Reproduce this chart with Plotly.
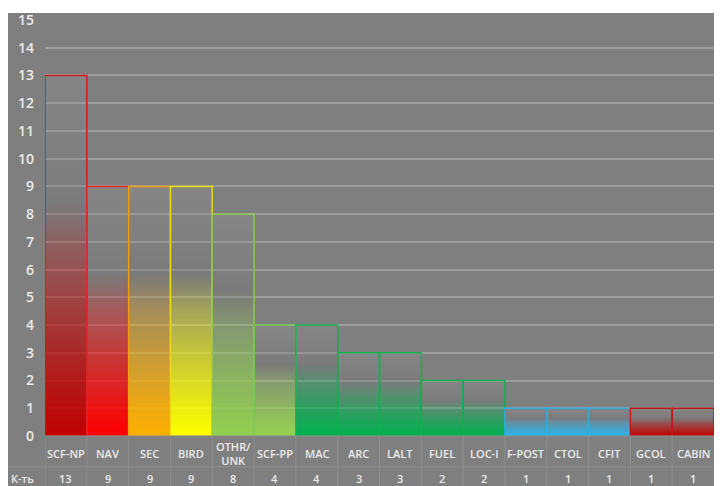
import plotly.graph_objects as go

categories = ["SCF-NP", "NAV", "SEC", "BIRD", "OTHR/<br>UNK", "SCF-PP", "MAC", "ARC",
              "LALT", "FUEL", "LOC-I", "F-POST", "CTOL", "CFIT", "GCOL", "CABIN"]
values = [13, 9, 9, 9, 8, 4, 4, 3, 3, 2, 2, 1, 1, 1, 1, 1]
fill_rgb = [(192, 0, 0), (255, 0, 0), (255, 176, 0), (255, 255, 0), (146, 208, 80),
            (150, 210, 80), (0, 176, 80), (0, 176, 80), (0, 176, 80), (0, 176, 80),
            (0, 176, 80), (40, 180, 235), (40, 180, 235), (40, 180, 235),
            (192, 0, 0), (192, 0, 0)]
line_colors = ["#c81e1e", "#e02828", "#f0a010", "#e8dc10", "#8cc850", "#78c850",
               "#10b050", "#10b050", "#10b050", "#10b050", "#10b050",
               "#2aaee2", "#2aaee2", "#2aaee2", "#c01818", "#c01818"]
row_label = "К-ть"

BG = "#7f7f7f"
GRID = "#9d9d9d"
TXT = "#ececec"

fig = go.Figure()

for i, (cat, v, rgb, lc) in enumerate(zip(categories, values, fill_rgb, line_colors)):
    r, g, b = rgb
    cs = [
        [0.0, f"rgba({r},{g},{b},1)"],
        [0.12, f"rgba({r},{g},{b},0.85)"],
        [0.5, f"rgba({r},{g},{b},0.3)"],
        [0.65, "rgba(110,110,110,0.3)"],
        [0.82, "rgba(135,135,135,0.2)"],
        [1.0, "rgba(150,150,150,0.3)"],
    ]
    fig.add_trace(go.Scatter(
        x=[i - 0.5, i - 0.5, i + 0.5, i + 0.5, i - 0.5],
        y=[0, v, v, 0, 0],
        mode="lines",
        fill="toself",
        fillgradient=dict(type="vertical", colorscale=cs),
        line=dict(color=lc, width=1.5),
        hoverinfo="skip",
        showlegend=False,
    ))

# data table below the plot
font_tbl = dict(family="Open Sans", size=11, color=TXT, weight=600)
annotations = []
for i, (cat, v) in enumerate(zip(categories, values)):
    annotations.append(dict(x=i, y=-0.041, xref="x", yref="paper", text=cat,
                            showarrow=False, font=font_tbl,
                            xanchor="center", yanchor="middle"))
    annotations.append(dict(x=i, y=-0.101, xref="x", yref="paper", text=str(v),
                            showarrow=False, font=font_tbl,
                            xanchor="center", yanchor="middle"))
annotations.append(dict(x=-0.034, y=-0.101, xref="paper", yref="paper", text=row_label,
                        showarrow=False, font=font_tbl,
                        xanchor="center", yanchor="middle"))

shapes = []
# white strip at top
shapes.append(dict(type="rect", xref="paper", yref="paper", x0=-0.1, x1=1.1,
                   y0=1.0168, y1=1.06, fillcolor="white", line=dict(width=0), layer="above"))
# table lines
for k in range(len(categories) + 1):
    shapes.append(dict(type="line", xref="x", yref="paper", x0=k - 0.5, x1=k - 0.5,
                       y0=0, y1=-0.15, line=dict(color="#8e8e8e", width=1)))
shapes.append(dict(type="line", xref="paper", yref="paper", x0=-0.06, x1=1.0,
                   y0=-0.074, y1=-0.074, line=dict(color="#8e8e8e", width=1)))
shapes.append(dict(type="line", xref="paper", yref="paper", x0=0, x1=1.0,
                   y0=0, y1=0, line=dict(color="#8e8e8e", width=1)))

fig.update_layout(
    width=722, height=486,
    margin=dict(l=37, r=16, t=12, b=58, autoexpand=False),
    paper_bgcolor=BG, plot_bgcolor=BG,
    xaxis=dict(range=[-0.5, len(categories) - 0.5], showgrid=False, zeroline=False,
               showticklabels=False, fixedrange=True, automargin=False),
    yaxis=dict(range=[0, 15], dtick=1, showgrid=True, gridcolor=GRID, gridwidth=1.5,
               zeroline=False, ticklabelstandoff=10, automargin=False,
               tickfont=dict(family="Open Sans", size=14, color=TXT, weight=600)),
    annotations=annotations,
    shapes=shapes,
)

fig.write_html("out.html")
